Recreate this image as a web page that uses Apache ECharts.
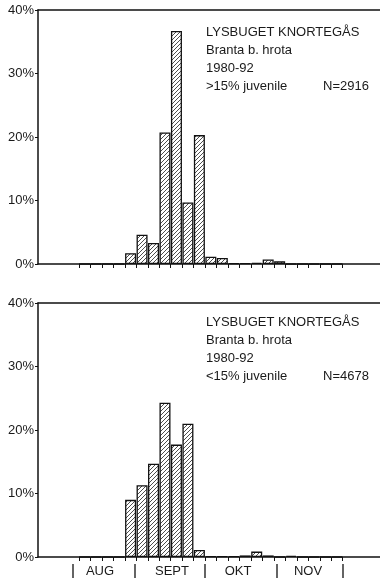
<!DOCTYPE html>
<html>
<head>
<meta charset="utf-8">
<script src="https://cdn.jsdelivr.net/npm/echarts@6/dist/echarts.min.js"></script>
<style>
html,body{margin:0;padding:0;background:#fff;}
#c{width:380px;height:579px;}
</style>
</head>
<body>
<div id="c"></div>
<script>
// Pentad bins (23 periods)
var bins = ['P1','P2','P3','P4','P5','P6','P7','P8','P9','P10','P11','P12','P13','P14','P15','P16','P17','P18','P19','P20','P21','P22','P23'];
// >15% juvenile, % per pentad
var topValues = [0,0,0,0,1.7,4.6,3.3,20.7,36.7,9.7,20.3,1.15,0.95,0.1,0.1,0.2,0.7,0.45,0,0,0,0,0];
// <15% juvenile, % per pentad
var bottomValues = [0,0,0,0,9.0,11.3,14.7,24.3,17.7,21.0,1.1,0.1,0.1,0.1,0.25,0.85,0.25,0,0.2,0,0,0,0];
var yTicks = [0,10,20,30,40];
var months = ['AUG','SEPT','OKT','NOV'];
var topText = ['LYSBUGET KNORTEGÅS','Branta b. hrota','1980-92','>15% juvenile'];
var topN = 'N=2916';
var bottomText = ['LYSBUGET KNORTEGÅS','Branta b. hrota','1980-92','<15% juvenile'];
var bottomN = 'N=4678';

// hatch pattern
var pc = document.createElement('canvas');
var s = 4;
pc.width = s; pc.height = s;
var ctx = pc.getContext('2d');
ctx.fillStyle = '#fff'; ctx.fillRect(0,0,s,s);
ctx.strokeStyle = '#3a3a3a'; ctx.lineWidth = 0.9;
ctx.beginPath();
ctx.moveTo(0,s); ctx.lineTo(s,0);
ctx.moveTo(-1,1); ctx.lineTo(1,-1);
ctx.moveTo(s-1,s+1); ctx.lineTo(s+1,s-1);
ctx.stroke();

var font = '"Liberation Sans", Arial, Helvetica, sans-serif';
var chart = echarts.init(document.getElementById('c'), null, {renderer:'canvas'});

var panels = [{top:10, h:254}, {top:303, h:254}];
var grids = [], xAxes = [], yAxes = [], series = [];
panels.forEach(function(p, i){
  grids.push({left:38, right:0, top:p.top, height:p.h});
  grids.push({left:79, right:37.3, top:p.top, height:p.h});
  var gFrame = i*2, gBins = i*2+1;
  xAxes.push({gridIndex:gFrame, type:'value', min:0, max:1, position:'bottom',
    axisLine:{show:true, onZero:false, lineStyle:{color:'#111', width:1.5}},
    axisTick:{show:false}, axisLabel:{show:false}, splitLine:{show:false}});
  xAxes.push({gridIndex:gFrame, type:'value', min:0, max:1, position:'top',
    axisLine:{show:true, onZero:false, lineStyle:{color:'#111', width:1.5}},
    axisTick:{show:false}, axisLabel:{show:false}, splitLine:{show:false}});
  xAxes.push({gridIndex:gBins, type:'category', data:bins, boundaryGap:true, position:'bottom',
    axisLine:{show:false, onZero:false}, axisLabel:{show:false},
    axisTick:{show:true, interval:0, length:4, lineStyle:{color:'#111', width:1}}});
  yAxes.push({gridIndex:gFrame, type:'value', min:0, max:40, interval:10,
    axisLine:{show:true, lineStyle:{color:'#111', width:1.5}},
    axisTick:{show:true, length:3, lineStyle:{color:'#111'}},
    axisLabel:{formatter:'{value}%', color:'#1a1a1a', fontSize:13, fontFamily:font, margin:4},
    splitLine:{show:false}});
  yAxes.push({gridIndex:gBins, type:'value', min:0, max:40, show:false});
  series.push({type:'bar', xAxisIndex:i*3+2, yAxisIndex:i*2+1,
    data: i===0 ? topValues : bottomValues,
    barCategoryGap:'4%',
    itemStyle:{color:{image:pc, repeat:'repeat'}, borderColor:'#111', borderWidth:1.3},
    emphasis:{disabled:true}, animation:false});
});

var graphic = [];
function addBlock(lines, nText, y0){
  lines.forEach(function(t, k){
    graphic.push({type:'text', left:206, top:y0 + k*18,
      style:{text:t, font:'13px '+font, fill:'#1a1a1a', textVerticalAlign:'middle'}});
  });
  graphic.push({type:'text', left:323, top:y0 + 3*18,
    style:{text:nText, font:'13px '+font, fill:'#1a1a1a', textVerticalAlign:'middle'}});
}
addBlock(topText, topN, 26);
addBlock(bottomText, bottomN, 316);

var pipes = [73,135,205,277,343];
pipes.forEach(function(x){
  graphic.push({type:'line', shape:{x1:x, y1:564, x2:x, y2:578}, style:{stroke:'#111', lineWidth:1.3}});
});
var monthX = [100,172,238,308];
months.forEach(function(m, k){
  graphic.push({type:'text', x:monthX[k], y:571,
    style:{text:m, font:'13px '+font, fill:'#1a1a1a', textAlign:'center', textVerticalAlign:'middle'}});
});

chart.setOption({
  animation:false,
  backgroundColor:'#fff',
  grid:grids, xAxis:xAxes, yAxis:yAxes, series:series, graphic:graphic
});
</script>
</body>
</html>
